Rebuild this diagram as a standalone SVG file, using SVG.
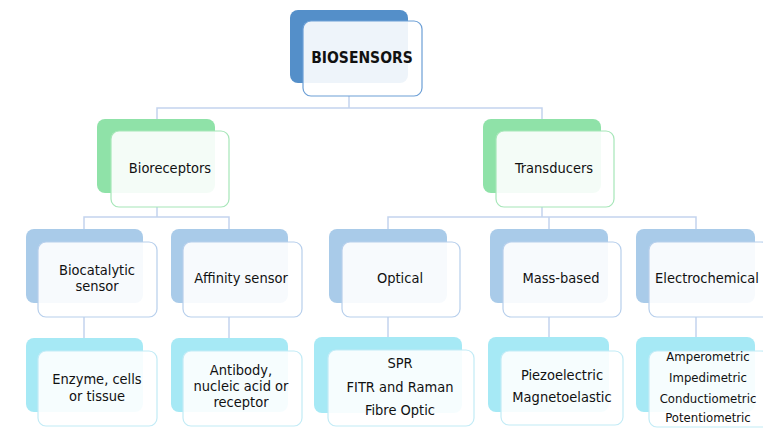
<svg xmlns="http://www.w3.org/2000/svg" width="763" height="435" viewBox="0 0 763 435">
<style>
text{font-family:"DejaVu Sans","Liberation Sans",sans-serif;font-stretch:condensed;font-size:14.5px;fill:#111;text-anchor:middle}
.t{font-weight:bold;font-size:15.5px}
.s{font-size:13px}
.conn{fill:none;stroke:#c3d4ee;stroke-width:1.5}
.b0{fill:#548fc9}.f0{fill:#fff;fill-opacity:0.9;stroke:#6c9fd6;stroke-width:1.2}
.b1{fill:#8fe2a8}.f1{fill:#fff;fill-opacity:0.9;stroke:#a6e6b8;stroke-width:1.2}
.b2{fill:#a9cbe9}.f2{fill:#fff;fill-opacity:0.9;stroke:#b7cfec;stroke-width:1.2}
.b3{fill:#a6e9f5}.f3{fill:#fff;fill-opacity:0.9;stroke:#c2ebf6;stroke-width:1.2}
</style>
<rect width="763" height="435" fill="#fff"/>
<g id="connectors">
<path class="conn" d="M349 96V108M157 119V108H542V119"/>
<path class="conn" d="M157 207V217M84 229V217H229V229"/>
<path class="conn" d="M542 207V217M388 229V217H696V229M549 217V229"/>
<path class="conn" d="M84 317V338M229 317V338M388 317V337M549 317V337M696 317V337"/>
</g>
<g id="biosensors">
<rect class="b0" x="290" y="10" width="118" height="73" rx="8"/>
<rect class="f0" x="303" y="21" width="119" height="75" rx="8"/>
<text class="t" x="362" y="63">BIOSENSORS</text>
</g>
<g id="bioreceptors">
<rect class="b1" x="97" y="119" width="118" height="74" rx="8"/>
<rect class="f1" x="111" y="131" width="118" height="76" rx="8"/>
<text x="170" y="173">Bioreceptors</text>
</g>
<g id="transducers">
<rect class="b1" x="483" y="119" width="118" height="74" rx="8"/>
<rect class="f1" x="496" y="131" width="118" height="76" rx="8"/>
<text x="554" y="173">Transducers</text>
</g>
<g id="biocatalytic">
<rect class="b2" x="26" y="229" width="117" height="74" rx="8"/>
<rect class="f2" x="38" y="242" width="119" height="75" rx="8"/>
<text x="97" y="275">Biocatalytic</text>
<text x="97" y="291">sensor</text>
</g>
<g id="affinity">
<rect class="b2" x="171" y="229" width="117" height="74" rx="8"/>
<rect class="f2" x="183" y="242" width="119" height="75" rx="8"/>
<text x="241" y="283">Affinity sensor</text>
</g>
<g id="optical">
<rect class="b2" x="329" y="229" width="118" height="74" rx="8"/>
<rect class="f2" x="342" y="242" width="118" height="75" rx="8"/>
<text x="400" y="283">Optical</text>
</g>
<g id="mass">
<rect class="b2" x="490" y="229" width="118" height="74" rx="8"/>
<rect class="f2" x="503" y="242" width="118" height="75" rx="8"/>
<text x="561" y="283">Mass-based</text>
</g>
<g id="electrochemical">
<rect class="b2" x="636" y="229" width="119" height="74" rx="8"/>
<rect class="f2" x="649" y="242" width="120" height="75" rx="8"/>
<text x="707" y="283">Electrochemical</text>
</g>
<g id="enzyme">
<rect class="b3" x="26" y="338" width="117" height="74" rx="8"/>
<rect class="f3" x="38" y="351" width="119" height="75" rx="8"/>
<text x="97" y="384">Enzyme, cells</text>
<text x="97" y="401">or tissue</text>
</g>
<g id="antibody">
<rect class="b3" x="171" y="338" width="117" height="74" rx="8"/>
<rect class="f3" x="183" y="351" width="119" height="75" rx="8"/>
<text x="241" y="375">Antibody,</text>
<text x="241" y="391">nucleic acid or</text>
<text x="241" y="407">receptor</text>
</g>
<g id="optical-types">
<rect class="b3" x="314" y="337" width="148" height="76" rx="8"/>
<rect class="f3" x="328" y="350" width="146" height="76" rx="8"/>
<text x="400" y="368">SPR</text>
<text x="400" y="392">FITR and Raman</text>
<text x="400" y="415">Fibre Optic</text>
</g>
<g id="mass-types">
<rect class="b3" x="488" y="337" width="121" height="75" rx="8"/>
<rect class="f3" x="501" y="351" width="122" height="74" rx="8"/>
<text x="562" y="380">Piezoelectric</text>
<text x="562" y="402">Magnetoelastic</text>
</g>
<g id="electro-types">
<rect class="b3" x="636" y="337" width="119" height="75" rx="8"/>
<rect class="f3" x="649" y="351" width="120" height="76" rx="8"/>
<text class="s" x="708" y="361">Amperometric</text>
<text class="s" x="708" y="382">Impedimetric</text>
<text class="s" x="708" y="403">Conductiometric</text>
<text class="s" x="708" y="422">Potentiometric</text>
</g>
</svg>
